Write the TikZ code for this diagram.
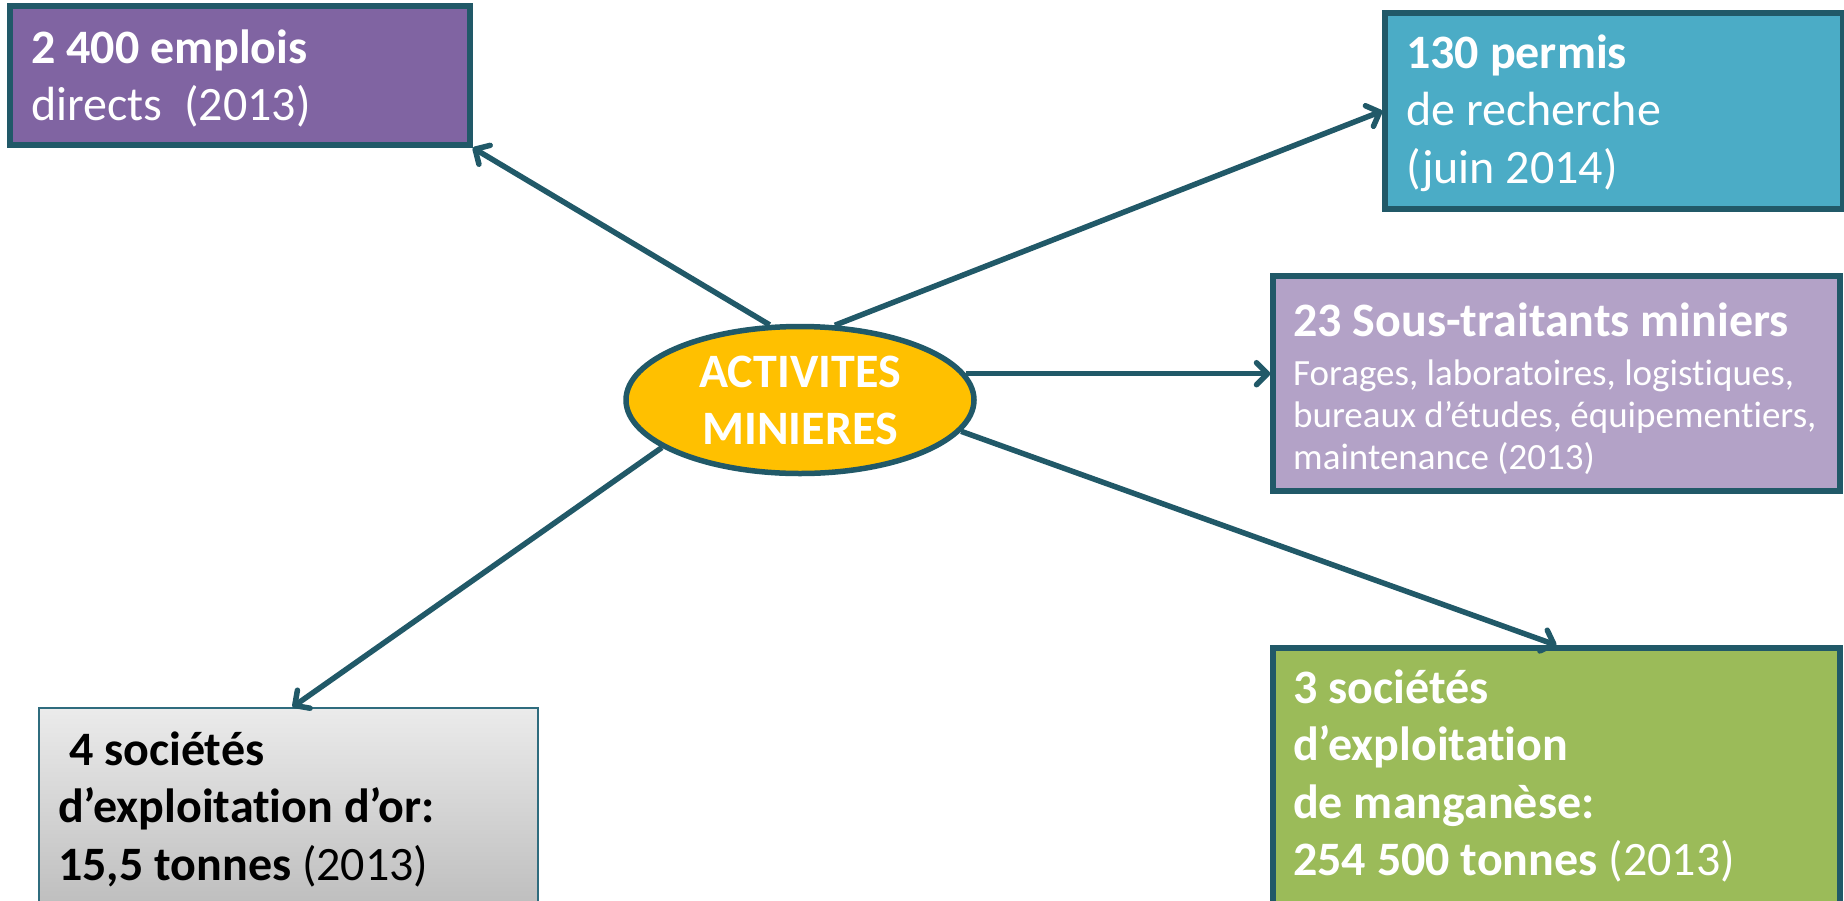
\documentclass[tikz,border=0pt]{standalone}
\usepackage{fontspec}
\setmainfont{Carlito}[RawFeature={-liga;-clig;-calt;-dlig}]
\usetikzlibrary{shapes.geometric,arrows.meta}
\definecolor{edge}{HTML}{215968}
\definecolor{cpurple}{HTML}{8064A2}
\definecolor{cblue}{HTML}{4BACC6}
\definecolor{clav}{HTML}{B3A2C7}
\definecolor{cgreen}{HTML}{9BBB59}
\definecolor{cgold}{HTML}{FFC000}
\definecolor{gtop}{HTML}{EBEBEB}
\definecolor{gbot}{HTML}{BCBCBC}
\definecolor{thinedge}{HTML}{2F6C7E}
\tikzset{
 box/.style={rectangle, draw=edge, line width=5.5pt, inner sep=0pt},
 txt/.style={anchor=north west, inner sep=0pt, align=left, text=white, font=\fontsize{48}{57.5}\selectfont},
 small/.style={txt, font=\fontsize{37}{42}\selectfont},
 link/.style={draw=edge, line width=5.5pt, -{Straight Barb[length=11pt,width=22pt,round]}},
}
\begin{document}
\begin{tikzpicture}[x=1pt,y=-1pt]
\useasboundingbox (0,0) rectangle (1844,900);
\clip (0,0) rectangle (1844,900);
\fill[white] (0,0) rectangle (1844,900);
% boxes
\node[box, fill=cpurple, minimum width=460pt, minimum height=139pt] (box1) at (240,75.5) {};
\node[box, fill=cblue, minimum width=458pt, minimum height=196pt] (box2) at (1614,111) {};
\node[box, fill=clav, minimum width=567pt, minimum height=215pt] (box3) at (1556.5,383.5) {};
\node[box, fill=cgreen, minimum width=567pt, minimum height=270pt] (box5) at (1556.5,783) {};
\node[rectangle, draw=thinedge, line width=1.8pt, top color=gtop, bottom color=gbot, minimum width=499pt, minimum height=207pt, inner sep=0pt] (box4) at (288.5,811.5) {};
% centre
\node[ellipse, draw=edge, line width=5.5pt, fill=cgold, minimum width=348pt, minimum height=147pt, inner sep=0pt, text=white, font=\fontsize{48}{57}\selectfont\bfseries, align=center] (ell) at (800,400) {ACTIVITES\\MINIERES};
% texts
\node[txt] (t1) at (31,22.75) {\strut\textbf{2 400 emplois}\\directs\ \ (2013)};
\node[txt] (t2) at (1406,27.75) {\strut\textbf{130 permis}\\de recherche\\(juin 2014)};
\node[txt] (t3a) at (1293,295.75) {\strut\textbf{23 Sous-traitants miniers}};
\node[small] (t3b) at (1293,355.6) {\strut Forages, laboratoires, logistiques,\\bureaux d’études, équipementiers,\\maintenance (2013)};
\node[txt, text=black] (t4) at (58,724.75) {\strut\hspace*{0.226em}\textbf{4 sociétés}\\\textbf{d’exploitation d’or:}\\\textbf{15,5 tonnes} (2013)};
\node[txt] (t5) at (1293,662.75) {\strut\textbf{3 sociétés}\\\textbf{d’exploitation}\\\textbf{de manganèse:}\\\textbf{254 500 tonnes} (2013)};
% connectors
\draw[link] (ell.112) -- (box1.south east);
\draw[link] (ell.65) -- (box2.west);
\draw[link] (ell.9) -- (ell.9 -| box3.west);
\draw[link] (ell.349.4) -- (box5.north);
\draw[link] (ell.199) -- ([xshift=4pt]box4.north);
\end{tikzpicture}
\end{document}
